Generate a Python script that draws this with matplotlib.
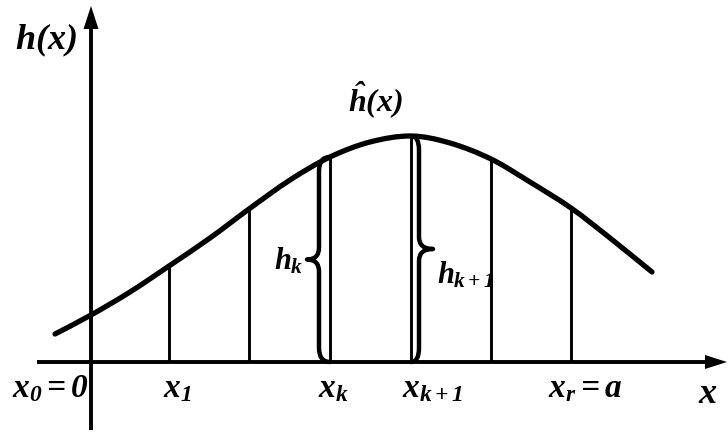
import matplotlib
matplotlib.use("Agg")
import matplotlib.pyplot as plt
from matplotlib.path import Path
from matplotlib.patches import PathPatch, Polygon
import numpy as np

plt.rcParams.update({
    "mathtext.fontset": "custom",
    "mathtext.it": "Liberation Serif:italic:bold",
    "mathtext.rm": "Liberation Serif:italic:bold",
    "mathtext.bf": "Liberation Serif:italic:bold",
    "font.family": ["Liberation Serif", "DejaVu Serif"],
})

# sampled curve h^(x): horizontal position and height above the x axis
curve_x = [-36, 0, 39, 78, 119, 158, 199, 239, 279, 320, 359, 400, 439, 480, 519, 561]
curve_h = [28, 47, 70, 96, 124, 153, 182, 205, 220, 226, 219, 203, 180, 154, 124, 90]

# partition nodes x_1 .. x_r (x_0 sits on the vertical axis)
node_x = [78, 158, 239, 320, 400, 480]
node_h = [96, 153, 205, 226, 203, 154]

# labels under the nodes: (text, left edge)
node_labels = [
    (r"$x_0{=}0$", -79),
    (r"$x_1$", 72),
    (r"$x_k$", 227),
    (r"$x_{k+1}$", 311),
    (r"$x_r{=}a$", 457),
]

W, H = 728, 432
fig = plt.figure(figsize=(W / 100, H / 100), dpi=100)
ax = fig.add_axes([0, 0, 1, 1])
ax.set_xlim(-91, W - 91)
ax.set_ylim(-70, H - 70)
ax.axis("off")

# axes with arrowheads
ax.plot([-54, 618], [0, 0], color="black", lw=2.8, solid_capstyle="butt")
ax.add_patch(Polygon([[636, 0], [614, 7], [614, -7]], closed=True,
                     color="black", lw=0))
ax.plot([0, 0], [-68, 336], color="black", lw=2.8, solid_capstyle="butt")
ax.add_patch(Polygon([[0, 356], [-7.5, 333], [7.5, 333]], closed=True,
                     color="black", lw=0))

# vertical ordinates at the nodes
for xn, hn in zip(node_x, node_h):
    ax.plot([xn, xn], [0, hn], color="black", lw=2.1, solid_capstyle="butt")


# smooth curve through the samples (Catmull-Rom as cubic Bezier segments)
def smooth_path(xs, ys):
    pts = np.column_stack([xs, ys]).astype(float)
    ext = np.vstack([pts[0], pts, pts[-1]])
    verts = [pts[0]]
    codes = [Path.MOVETO]
    for i in range(1, len(ext) - 2):
        p0, p1, p2, p3 = ext[i - 1], ext[i], ext[i + 1], ext[i + 2]
        verts += [p1 + (p2 - p0) / 6, p2 - (p3 - p1) / 6, p2]
        codes += [Path.CURVE4] * 3
    return Path(verts, codes)


ax.add_patch(PathPatch(smooth_path(curve_x, curve_h), fill=False,
                       edgecolor="black", lw=3.8, capstyle="round",
                       joinstyle="round"))


# curly brace alongside an ordinate
def brace(x_line, y_top, y_bot, d, body=11, tip=23, r_end=14, r_mid=12):
    xb = x_line + d * body
    xt = x_line + d * tip
    ym = 0.5 * (y_top + y_bot)
    verts = [
        (x_line, y_top), (xb, y_top), (xb, y_top - r_end),
        (xb, ym + r_mid),
        (xb, ym), (xt, ym),
        (xb, ym), (xb, ym - r_mid),
        (xb, y_bot + r_end),
        (xb, y_bot), (x_line, y_bot),
    ]
    codes = [Path.MOVETO, Path.CURVE3, Path.CURVE3,
             Path.LINETO,
             Path.CURVE3, Path.CURVE3,
             Path.CURVE3, Path.CURVE3,
             Path.LINETO,
             Path.CURVE3, Path.CURVE3]
    ax.add_patch(PathPatch(Path(verts, codes), fill=False, edgecolor="black",
                           lw=3.2, capstyle="round", joinstyle="round"))


brace(node_x[2], node_h[2], 0, -1, body=11, tip=23)
brace(node_x[3], node_h[3], 0, +1, body=8, tip=22)

# text
ax.text(-76, 313, r"$h(x)$", fontsize=26, ha="left", va="baseline")
ax.text(257, 250, r"$\hat{h}(x)$", fontsize=23, ha="left", va="baseline")
ax.text(183, 92, r"$h_k$", fontsize=22, ha="left", va="baseline")
ax.text(346, 79, r"$h_{k+1}$", fontsize=22, ha="left", va="baseline")
for txt, xl in node_labels:
    ax.text(xl, -35, txt, fontsize=24, ha="left", va="baseline")
ax.text(607, -41, r"$x$", fontsize=26, ha="left", va="baseline")

fig.savefig("out.png", dpi=100)
